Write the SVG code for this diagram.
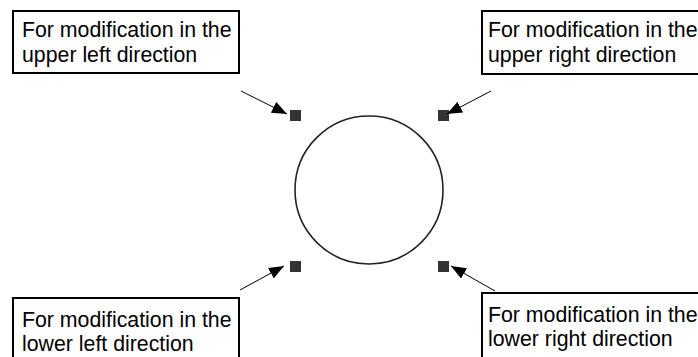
<svg xmlns="http://www.w3.org/2000/svg" width="698" height="357" viewBox="0 0 698 357">
<style>
.box{fill:#fff;stroke:#000;stroke-width:2}
.lbl{font-family:"Liberation Sans",Arial,sans-serif;font-size:21.3px;fill:#000}
.hdl{fill:#333}
.con{stroke:#000;stroke-width:1;fill:none;marker-end:url(#ah)}
</style>
<defs>
<marker id="ah" viewBox="0 0 15 12" refX="15" refY="6" markerWidth="15" markerHeight="12" markerUnits="userSpaceOnUse" orient="auto">
<path d="M0,0 L15,6 L0,12 Z" fill="#000"/>
</marker>
</defs>
<rect width="698" height="357" fill="#fff"/>
<g id="shape">
<circle cx="369" cy="190" r="74" fill="none" stroke="#222" stroke-width="1.6"/>
<rect class="hdl" x="290" y="110" width="11" height="11"/>
<rect class="hdl" x="438" y="110" width="11" height="11"/>
<rect class="hdl" x="290" y="261" width="11" height="11"/>
<rect class="hdl" x="438" y="261" width="11" height="11"/>
</g>
<g id="connectors">
<line class="con" x1="241" y1="91" x2="287" y2="114"/>
<line class="con" x1="491" y1="91" x2="447" y2="114"/>
<line class="con" x1="240" y1="290" x2="284" y2="266"/>
<line class="con" x1="495" y1="291" x2="451" y2="266"/>
</g>
<g id="upper-left">
<rect class="box" x="13" y="11" width="226" height="62"/>
<text class="lbl" x="22" y="37">For modification in the</text>
<text class="lbl" x="22" y="62">upper left direction</text>
</g>
<g id="upper-right">
<rect class="box" x="482" y="11" width="230" height="63"/>
<text class="lbl" x="488" y="37">For modification in the</text>
<text class="lbl" x="488" y="62">upper right direction</text>
</g>
<g id="lower-left">
<rect class="box" x="13" y="298" width="226" height="70"/>
<text class="lbl" x="22" y="327">For modification in the</text>
<text class="lbl" x="22" y="351">lower left direction</text>
</g>
<g id="lower-right">
<rect class="box" x="482" y="293" width="230" height="70"/>
<text class="lbl" x="488" y="322">For modification in the</text>
<text class="lbl" x="488" y="346">lower right direction</text>
</g>
</svg>
